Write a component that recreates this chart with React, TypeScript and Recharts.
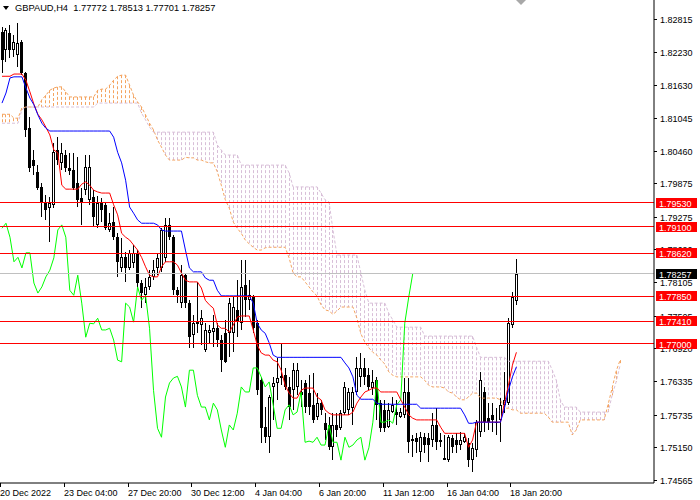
import React from "react";
import { ComposedChart, Bar, Line, XAxis, YAxis, ReferenceLine } from "recharts";

const FONT = "'Liberation Sans', Arial, sans-serif";

// ---- candles (H4, GBPAUD) ----
const OPEN = [
  1.8258, 1.8226, 1.8256, 1.8226, 1.8217, 1.824, 1.8185, 1.8086, 1.8029, 1.8008,
  1.7981, 1.7954, 1.7943, 1.7949, 1.8047, 1.8024, 1.8038, 1.8015, 1.8011, 1.7988,
  1.7961, 1.7975, 1.7958, 1.7963, 1.7913, 1.7952, 1.7949, 1.7904, 1.7918, 1.7891,
  1.7836, 1.7855, 1.7836, 1.7845, 1.7863, 1.7809, 1.7787, 1.7802, 1.782, 1.7836,
  1.7836, 1.7854, 1.7913, 1.7891, 1.7796, 1.7773, 1.7823, 1.7773, 1.7716, 1.7739,
  1.7734, 1.7689, 1.7719, 1.7721, 1.7728, 1.7707, 1.7719, 1.7719, 1.7719, 1.7761,
  1.7737, 1.7805, 1.7778, 1.7784, 1.7737, 1.7635, 1.7551, 1.7533, 1.7623, 1.763,
  1.7639, 1.7644, 1.7623, 1.7617, 1.7623, 1.7614, 1.763, 1.7612, 1.7591, 1.7569,
  1.7594, 1.7558, 1.7555, 1.7515, 1.7555, 1.7549, 1.7576, 1.7582, 1.7585, 1.7614,
  1.7641, 1.7657, 1.7644, 1.7621, 1.7635, 1.7594, 1.7582, 1.7551, 1.7578, 1.7578,
  1.7569, 1.7573, 1.7614, 1.753, 1.7532, 1.7506, 1.7533, 1.7532, 1.7528, 1.7555,
  1.7528, 1.7496, 1.7492, 1.7532, 1.7528, 1.7519, 1.7524, 1.7523, 1.7492, 1.751,
  1.7542, 1.7614, 1.7567, 1.7573, 1.756, 1.7564, 1.7591, 1.7594, 1.7734, 1.77772,
];
const HIGH = [
  1.8267, 1.8265, 1.8271, 1.8253, 1.8274, 1.8244, 1.8187, 1.8106, 1.8047, 1.802,
  1.7988, 1.7966, 1.7963, 1.806, 1.807, 1.806, 1.8047, 1.8042, 1.8042, 1.8034,
  1.7979, 1.8038, 1.8038, 1.7975, 1.7965, 1.7961, 1.7954, 1.7934, 1.7945, 1.7898,
  1.7889, 1.7864, 1.7868, 1.7877, 1.7868, 1.7814, 1.7818, 1.7832, 1.785, 1.7863,
  1.7907, 1.7925, 1.7925, 1.7895, 1.7802, 1.7841, 1.7827, 1.7778, 1.7752, 1.7811,
  1.7761, 1.7737, 1.7734, 1.7752, 1.7737, 1.7716, 1.7743, 1.7782, 1.7784, 1.7814,
  1.785, 1.785, 1.7814, 1.7787, 1.7743, 1.7641, 1.7587, 1.7608, 1.7641, 1.7675,
  1.7702, 1.7657, 1.7641, 1.7666, 1.7666, 1.7635, 1.7635, 1.7644, 1.7648, 1.7612,
  1.76, 1.7576, 1.7569, 1.7576, 1.7576, 1.7582, 1.7632, 1.7621, 1.7623, 1.7676,
  1.7684, 1.7675, 1.7657, 1.7653, 1.7641, 1.76, 1.76, 1.7594, 1.7605, 1.76,
  1.7585, 1.7639, 1.7639, 1.7537, 1.754, 1.7542, 1.754, 1.754, 1.7576, 1.7585,
  1.754, 1.7537, 1.7537, 1.7537, 1.754, 1.7542, 1.754, 1.7532, 1.7523, 1.7564,
  1.765, 1.7623, 1.7594, 1.7594, 1.7585, 1.7603, 1.765, 1.7746, 1.7793, 1.78513,
];
const LOW = [
  1.8185, 1.8205, 1.8212, 1.8213, 1.8196, 1.8181, 1.807, 1.8008, 1.8002, 1.7975,
  1.7927, 1.7922, 1.7882, 1.7943, 1.802, 1.8011, 1.8008, 1.8002, 1.7975, 1.7945,
  1.7913, 1.7966, 1.7949, 1.7911, 1.7907, 1.7918, 1.7904, 1.79, 1.7886, 1.782,
  1.7829, 1.7811, 1.7832, 1.7836, 1.7802, 1.7764, 1.7773, 1.7796, 1.7814, 1.7823,
  1.7829, 1.7847, 1.7886, 1.7787, 1.7773, 1.7764, 1.7764, 1.7693, 1.7693, 1.7719,
  1.7698, 1.7685, 1.7702, 1.7694, 1.7694, 1.765, 1.7666, 1.7676, 1.7685, 1.7712,
  1.7725, 1.7748, 1.7761, 1.7719, 1.7608, 1.7523, 1.7523, 1.7505, 1.7564, 1.76,
  1.7626, 1.7617, 1.7564, 1.7582, 1.7608, 1.7587, 1.7576, 1.7573, 1.7558, 1.7564,
  1.7573, 1.7528, 1.751, 1.7492, 1.7533, 1.7546, 1.7573, 1.7573, 1.7555, 1.7608,
  1.7623, 1.7626, 1.7617, 1.7608, 1.7564, 1.7542, 1.7542, 1.7549, 1.7576, 1.7555,
  1.7567, 1.7567, 1.7505, 1.7497, 1.7505, 1.7489, 1.7505, 1.7489, 1.7515, 1.751,
  1.7515, 1.7492, 1.7489, 1.7505, 1.7505, 1.751, 1.7523, 1.748, 1.7471, 1.7497,
  1.7533, 1.7542, 1.7546, 1.7542, 1.7537, 1.7524, 1.7576, 1.7591, 1.7728, 1.77701,
];
const CLOSE = [
  1.8208, 1.8262, 1.8226, 1.824, 1.8239, 1.8185, 1.8083, 1.8015, 1.8018, 1.7979,
  1.7952, 1.794, 1.7952, 1.8043, 1.8029, 1.8042, 1.8015, 1.8009, 1.7979, 1.7958,
  1.7952, 1.8017, 1.8017, 1.7927, 1.7952, 1.794, 1.7907, 1.7916, 1.7891, 1.7847,
  1.7855, 1.7836, 1.7863, 1.7863, 1.7809, 1.7791, 1.7802, 1.782, 1.7832, 1.7854,
  1.7904, 1.7913, 1.7891, 1.7796, 1.7787, 1.7823, 1.7773, 1.7712, 1.7737, 1.7736,
  1.7746, 1.7725, 1.7725, 1.7728, 1.7707, 1.7671, 1.7668, 1.7773, 1.7766, 1.7739,
  1.7802, 1.7778, 1.7787, 1.7728, 1.7617, 1.7549, 1.7533, 1.7605, 1.763, 1.7639,
  1.7642, 1.7623, 1.7587, 1.7653, 1.7653, 1.7608, 1.7587, 1.7587, 1.7564, 1.7594,
  1.7582, 1.7546, 1.7515, 1.7555, 1.7546, 1.7576, 1.7623, 1.7614, 1.7614, 1.7657,
  1.7657, 1.7641, 1.7623, 1.7632, 1.7591, 1.7549, 1.7549, 1.7582, 1.7591, 1.7573,
  1.7578, 1.7614, 1.7524, 1.7526, 1.7524, 1.7533, 1.7519, 1.7519, 1.7555, 1.7524,
  1.7524, 1.7492, 1.7533, 1.7515, 1.7519, 1.7528, 1.7533, 1.7492, 1.7514, 1.756,
  1.7635, 1.756, 1.756, 1.7564, 1.7558, 1.7591, 1.76, 1.7737, 1.7784, 1.78257,
];

// ---- Ichimoku lines ----
const TENKAN = [
  1.8179, 1.8179, 1.8179, 1.8183, 1.8183, 1.8183, 1.8172, 1.8151, 1.8129, 1.8111,
  1.8101, 1.8088, 1.8074, 1.8047, 1.8042, 1.7984, 1.7977, 1.7977, 1.7977, 1.7977,
  1.7986, 1.799, 1.7984, 1.7975, 1.7972, 1.797, 1.797, 1.797, 1.7949, 1.7931,
  1.7898, 1.7891, 1.7886, 1.7877, 1.7868, 1.7855, 1.7838, 1.7823, 1.782, 1.782,
  1.7838, 1.7847, 1.7847, 1.7847, 1.7841, 1.7827, 1.7814, 1.7811, 1.7811, 1.7811,
  1.78, 1.7778, 1.777, 1.7764, 1.7734, 1.7728, 1.7728, 1.7721, 1.7734, 1.7748,
  1.775, 1.775, 1.775, 1.7725, 1.7698, 1.7684, 1.768, 1.768, 1.7671, 1.7668,
  1.7653, 1.7626, 1.7612, 1.7603, 1.7603, 1.7617, 1.7621, 1.7621, 1.7621, 1.7605,
  1.76, 1.7582, 1.7576, 1.7573, 1.7573, 1.7573, 1.7573, 1.7573, 1.7578, 1.7594,
  1.7605, 1.7614, 1.7617, 1.7621, 1.7621, 1.7614, 1.7614, 1.7614, 1.7614, 1.7614,
  1.76, 1.7587, 1.7573, 1.7567, 1.7564, 1.7564, 1.7564, 1.7564, 1.7564, 1.7564,
  1.7551, 1.754, 1.754, 1.754, 1.754, 1.754, 1.754, 1.7515, 1.7528, 1.756,
  1.756, 1.756, 1.756, 1.756, 1.756, 1.756, 1.7594, 1.7626, 1.7662, 1.7685,
];
const KIJUN = [
  1.8131, 1.8149, 1.8176, 1.8178, 1.8178, 1.8178, 1.8158, 1.814, 1.8128, 1.811,
  1.8095, 1.8086, 1.8081, 1.8081, 1.8081, 1.8081, 1.8081, 1.8081, 1.8081, 1.8081,
  1.8081, 1.8081, 1.8081, 1.8081, 1.8081, 1.8081, 1.8081, 1.8081, 1.807, 1.8043,
  1.8024, 1.7993, 1.7945, 1.7934, 1.7922, 1.7916, 1.7916, 1.7916, 1.7916, 1.7913,
  1.7904, 1.7902, 1.7902, 1.7902, 1.7902, 1.7902, 1.7868, 1.7836, 1.7829, 1.7829,
  1.7829, 1.7818, 1.7814, 1.7814, 1.7796, 1.7786, 1.7786, 1.7786, 1.7786, 1.7786,
  1.7786, 1.7786, 1.7786, 1.7773, 1.7737, 1.7725, 1.7719, 1.7702, 1.768, 1.7676,
  1.7676, 1.7676, 1.7676, 1.7676, 1.7676, 1.7676, 1.7676, 1.7676, 1.7676, 1.7676,
  1.7676, 1.7676, 1.7676, 1.7676, 1.7676, 1.7676, 1.7666, 1.7657, 1.7641, 1.7608,
  1.7601, 1.7601, 1.7601, 1.7601, 1.7594, 1.7592, 1.7592, 1.7592, 1.7592, 1.7592,
  1.7592, 1.7592, 1.7592, 1.7592, 1.7592, 1.7585, 1.7585, 1.7585, 1.7585, 1.7585,
  1.7585, 1.7585, 1.7585, 1.7585, 1.7585, 1.7585, 1.7573, 1.7558, 1.7558, 1.756,
  1.756, 1.756, 1.756, 1.756, 1.756, 1.756, 1.7585, 1.7617, 1.7641, 1.7659,
];
const SPAN_A = [
  1.8111, 1.8111, 1.8111, 1.8104, 1.8104, 1.8122, 1.8124, 1.8124, 1.8124, 1.8124,
  1.8137, 1.8145, 1.8154, 1.8158, 1.816, 1.816, 1.8151, 1.8142, 1.8142, 1.8142,
  1.8142, 1.8142, 1.8142, 1.8142, 1.8154, 1.8156, 1.8156, 1.8163, 1.8172, 1.8179,
  1.8181, 1.8181, 1.8163, 1.8145, 1.8133, 1.8124, 1.811, 1.8095, 1.8083, 1.8065,
  1.8052, 1.8038, 1.8029, 1.8029, 1.8029, 1.8029, 1.8034, 1.8033, 1.8033, 1.8029,
  1.8029, 1.8026, 1.8024, 1.8024, 1.8008, 1.7984, 1.7958, 1.7943, 1.7918, 1.7907,
  1.7898, 1.7886, 1.7879, 1.7873, 1.7868, 1.7868, 1.7872, 1.7873, 1.7873, 1.7873,
  1.7873, 1.7873, 1.7854, 1.7827, 1.782, 1.782, 1.7811, 1.7802, 1.7793, 1.7786,
  1.777, 1.7761, 1.7759, 1.7753, 1.7759, 1.7766, 1.7766, 1.7766, 1.7766, 1.7746,
  1.7718, 1.7703, 1.7693, 1.7685, 1.768, 1.7671, 1.7664, 1.765, 1.7644, 1.7641,
  1.7641, 1.7641, 1.7641, 1.7641, 1.7641, 1.7641, 1.7635, 1.7626, 1.7623, 1.7623,
  1.7623, 1.7621, 1.7614, 1.7612, 1.7605, 1.76, 1.76, 1.7605, 1.7612, 1.7612,
  1.7603, 1.7603, 1.7603, 1.7603, 1.7603, 1.76, 1.7585, 1.7585, 1.7582, 1.7582,
  1.7576, 1.7576, 1.7576, 1.7576, 1.7576, 1.7576, 1.7576, 1.7569, 1.756, 1.756,
  1.756, 1.756, 1.756, 1.7537, 1.7546, 1.7564, 1.7564, 1.7564, 1.7564, 1.7564,
  1.7564, 1.7564, 1.7592, 1.7621, 1.7651, 1.7671,
];
const SPAN_B = [
  1.8095, 1.8095, 1.8095, 1.8095, 1.8095, 1.8119, 1.8124, 1.8124, 1.8124, 1.8124,
  1.8124, 1.8124, 1.8124, 1.8124, 1.8124, 1.8124, 1.8124, 1.8124, 1.8124, 1.8124,
  1.8124, 1.8124, 1.8124, 1.8124, 1.8131, 1.8131, 1.8131, 1.8131, 1.8131, 1.8131,
  1.8131, 1.8131, 1.8131, 1.8131, 1.8131, 1.8113, 1.8101, 1.8088, 1.8079, 1.8079,
  1.8079, 1.8079, 1.8079, 1.8079, 1.8079, 1.8079, 1.8079, 1.8079, 1.8079, 1.8079,
  1.8079, 1.8079, 1.8079, 1.8079, 1.8056, 1.8047, 1.8038, 1.8038, 1.8038, 1.8038,
  1.802, 1.802, 1.802, 1.802, 1.802, 1.802, 1.802, 1.802, 1.802, 1.802,
  1.802, 1.802, 1.8006, 1.7981, 1.7981, 1.7981, 1.7981, 1.7981, 1.7981, 1.7981,
  1.797, 1.7958, 1.7954, 1.7904, 1.7859, 1.7859, 1.7859, 1.7859, 1.7859, 1.7859,
  1.7827, 1.7796, 1.7773, 1.7773, 1.7773, 1.7773, 1.7773, 1.7755, 1.7743, 1.773,
  1.773, 1.773, 1.773, 1.773, 1.773, 1.773, 1.7714, 1.7714, 1.7714, 1.7714,
  1.7714, 1.7714, 1.7714, 1.7714, 1.7714, 1.7714, 1.7714, 1.7714, 1.7714, 1.7694,
  1.7676, 1.7676, 1.7676, 1.7676, 1.7676, 1.7676, 1.7676, 1.7669, 1.7669, 1.7669,
  1.7669, 1.7669, 1.7669, 1.7669, 1.7669, 1.7669, 1.7669, 1.7669, 1.7653, 1.7635,
  1.76, 1.7587, 1.7587, 1.7587, 1.7587, 1.7578, 1.7578, 1.7578, 1.7578, 1.7578,
  1.7578, 1.7578, 1.7578, 1.7608, 1.7632, 1.7662,
];

const SLOT_COUNT = 164;
const CHIKOU_SHIFT = 26;

const TIME_TICKS = [0, 16, 32, 48, 64, 80, 96, 112, 128];
const TIME_LABELS = [
  "20 Dec 2022", "23 Dec 04:00", "27 Dec 20:00", "30 Dec 12:00", "4 Jan 04:00",
  "6 Jan 20:00", "11 Jan 12:00", "16 Jan 04:00", "18 Jan 20:00",
];
const PRICE_TICKS = [
  1.82815, 1.8223, 1.8163, 1.81045, 1.8046, 1.79875, 1.79275, 1.7869, 1.78105,
  1.77505, 1.7692, 1.76335, 1.75735, 1.7515, 1.74565,
];
const LEVELS = [1.7953, 1.791, 1.7862, 1.7785, 1.7741, 1.77];
const BID = 1.78257;
// level tags are drawn after the plain ticks so they sit on top of them
const AXIS_TICKS = [...PRICE_TICKS, ...LEVELS, BID];
const Y_DOMAIN: [number, number] = [1.74511, 1.83155];
const TITLE = "GBPAUD,H4  1.77772 1.78513 1.77701 1.78257";

const SANDY = "#F4A460";
const THISTLE = "#D8BFD8";

const rows = Array.from({ length: SLOT_COUNT }, (_, i) => ({
  i,
  o: OPEN[i] ?? null,
  h: HIGH[i] ?? null,
  l: LOW[i] ?? null,
  c: CLOSE[i] ?? null,
  tenkan: TENKAN[i] ?? null,
  kijun: KIJUN[i] ?? null,
  chikou: CLOSE[i + CHIKOU_SHIFT] ?? null,
  spanA: SPAN_A[i] ?? null,
  spanB: SPAN_B[i] ?? null,
}));

function CandleShape(props: any) {
  const { x, y, width, height, payload } = props;
  if (!payload || payload.h == null) return <g />;
  const top = Math.min(y, y + height);
  const bot = Math.max(y, y + height);
  const rng = payload.h - payload.l;
  const py = (v: number) => (rng > 0 ? top + ((payload.h - v) / rng) * (bot - top) : top);
  const cx = Math.floor(x + width / 2);
  const yo = py(payload.o);
  const yc = py(payload.c);
  const bTop = Math.round(Math.min(yo, yc));
  const bBot = Math.max(bTop + 1, Math.round(Math.max(yo, yc)));
  const bull = payload.c >= payload.o;
  const wTop = Math.round(top);
  const wBot = Math.max(wTop + 1, Math.round(bot));
  return (
    <g>
      <rect x={cx} y={wTop} width={1} height={wBot - wTop} fill="#000" />
      <rect x={cx - 1} y={bTop} width={3} height={bBot - bTop} fill="#000" />
      {bull && bBot - bTop > 2 ? (
        <rect x={cx} y={bTop + 1} width={1} height={bBot - bTop - 2} fill="#fff" />
      ) : null}
    </g>
  );
}

function CloudShape(props: any) {
  const { x, y, width, height, payload } = props;
  if (!payload || payload.spanA == null || payload.spanA === payload.spanB) return <g />;
  const top = Math.min(y, y + height);
  const bot = Math.max(y, y + height);
  const cx = Math.floor(x + width / 2) + 0.5;
  const color = payload.spanA > payload.spanB ? SANDY : THISTLE;
  return (
    <line x1={cx} x2={cx} y1={top} y2={bot} stroke={color} strokeWidth={1} strokeDasharray="3 2" />
  );
}

function TimeTick(props: any) {
  const { x, y, payload } = props;
  const k = TIME_TICKS.indexOf(payload.value);
  if (k < 0) return <g />;
  const tx = Math.round(x - 2) + 0.5;
  return (
    <g>
      <line x1={tx} x2={tx} y1={y} y2={y + 4} stroke="#000" strokeWidth={1} />
      <text x={tx - 0.5} y={y + 13} fill="#000" fontSize={9} fontFamily={FONT} textAnchor="start">
        {TIME_LABELS[k]}
      </text>
    </g>
  );
}

function PriceTick(props: any) {
  const { x, y, payload } = props;
  const v = payload.value;
  const yy = Math.round(y);
  const isBid = v === BID;
  const isLevel = LEVELS.indexOf(v) >= 0;
  if (isBid || isLevel) {
    return (
      <g>
        <rect x={x + 2} y={yy - 5} width={41} height={10} fill={isBid ? "#000000" : "#FF0000"} />
        <text x={x + 5} y={yy + 3.5} fill="#fff" fontSize={9} fontFamily={FONT}>
          {v.toFixed(5)}
        </text>
      </g>
    );
  }
  return (
    <g>
      <line x1={x} x2={x + 3} y1={yy + 0.5} y2={yy + 0.5} stroke="#000" strokeWidth={1} />
      <text x={x + 6} y={yy + 3.5} fill="#000" fontSize={9} fontFamily={FONT}>
        {v.toFixed(5)}
      </text>
    </g>
  );
}

const lineCommon = {
  type: "linear" as const,
  strokeWidth: 1,
  dot: false,
  activeDot: false,
  isAnimationActive: false,
  legendType: "none" as const,
};

export default function App() {
  return (
    <div style={{ position: "absolute", left: 0, top: 0, width: 700, height: 500, background: "#fff", overflow: "hidden" }}>
      <ComposedChart
        width={700}
        height={500}
        data={rows}
        margin={{ top: 0, right: 0, bottom: 0, left: 0 }}
        barCategoryGap={0}
        barGap={0}
      >
        <Bar
          xAxisId="cloud"
          dataKey={(d: any) => (d.spanA == null ? null : [Math.min(d.spanA, d.spanB), Math.max(d.spanA, d.spanB)])}
          shape={<CloudShape />}
          activeBar={false}
          isAnimationActive={false}
        />
        <Bar
          dataKey={(d: any) => (d.h == null ? null : [d.l, d.h])}
          shape={<CandleShape />}
          activeBar={false}
          isAnimationActive={false}
        />
        <Line dataKey="spanA" stroke={SANDY} strokeDasharray="3 2" {...lineCommon} />
        <Line dataKey="spanB" stroke={THISTLE} strokeDasharray="3 2" {...lineCommon} />
        <Line dataKey="chikou" stroke="#00FF00" {...lineCommon} />
        <Line dataKey="tenkan" stroke="#FF0000" {...lineCommon} />
        <Line dataKey="kijun" stroke="#0000FF" {...lineCommon} />
        {LEVELS.map((v) => (
          <ReferenceLine key={v} y={v} stroke="#FF0000" strokeWidth={1} shapeRendering="crispEdges" />
        ))}
        <ReferenceLine y={BID} stroke="#C0C0C0" strokeWidth={1} shapeRendering="crispEdges" />
        <XAxis
          dataKey="i"
          interval={0}
          tickLine={false}
          tickSize={0}
          tickMargin={0}
          height={17}
          axisLine={{ stroke: "#000" }}
          tick={<TimeTick />}
        />
        <XAxis xAxisId="cloud" dataKey="i" hide />
        <YAxis
          orientation="right"
          type="number"
          width={46}
          domain={Y_DOMAIN}
          allowDataOverflow
          ticks={AXIS_TICKS}
          interval={0}
          tickLine={false}
          tickSize={0}
          tickMargin={0}
          axisLine={{ stroke: "#000" }}
          tick={<PriceTick />}
        />
      </ComposedChart>
      <svg width={700} height={16} style={{ position: "absolute", left: 0, top: 0, pointerEvents: "none" }}>
        <polygon points="3,6 9,6 6,10" fill="#000" />
        <text x={15} y={10.7} fontSize={9.3} fontFamily={FONT} fill="#000" style={{ whiteSpace: "pre" }}>
          {TITLE}
        </text>
        <polygon points="516,0 526,0 521,5" fill="#A8A8A8" />
      </svg>
    </div>
  );
}
